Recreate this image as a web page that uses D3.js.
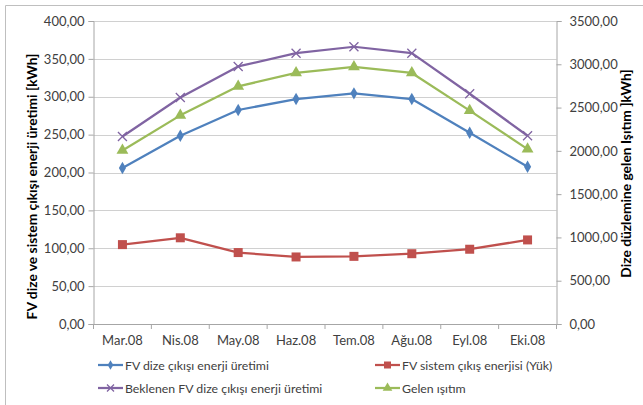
<!DOCTYPE html>
<html>
<head>
<meta charset="utf-8">
<script src="https://cdn.jsdelivr.net/npm/d3@7"></script>
<style>
  html, body { margin: 0; padding: 0; background: #fff; }
  svg { display: block; font-family: Lato, "Open Sans", sans-serif; }
</style>
</head>
<body>
<svg id="chart" width="643" height="405"></svg>
<script>
// Monthly energy data, March–October 2008
const months = ["Mar.08", "Nis.08", "May.08", "Haz.08", "Tem.08", "Ağu.08", "Eyl.08", "Eki.08"];
const dizeUretim = [206, 248.5, 282.5, 297, 304.5, 297, 252.5, 207.5];       // FV dize çıkışı enerji üretimi (left axis)
const sistemYuk = [104.8, 113.8, 94.3, 88.5, 89.3, 92.8, 98.7, 111];          // FV sistem çıkış enerjisi (Yük) (left axis)
const beklenen = [247.5, 299, 340, 357.5, 366, 357.5, 304, 248.5];           // Beklenen FV dize çıkışı enerji üretimi (left axis)
const gelenIsitim = [2005, 2410, 2745, 2900, 2970, 2900, 2465, 2020];        // Gelen ışıtım (right axis)
const leftTicks = [0, 50, 100, 150, 200, 250, 300, 350, 400];
const rightTicks = [0, 500, 1000, 1500, 2000, 2500, 3000, 3500];

const svg = d3.select("#chart");
const fmt = v => d3.format(".2f")(v).replace(".", ",");

// outer frame
svg.append("path").attr("d", "M5.5,405 V5.5 H643").attr("fill", "none").attr("stroke", "#bfbfbf");

const plot = { left: 93.5, right: 556.5, top: 21, bottom: 324 };

const x = d3.scaleBand().domain(months).range([plot.left, plot.right]);
const yL = d3.scaleLinear().domain([0, 400]).range([plot.bottom, plot.top]);
const yR = d3.scaleLinear().domain([0, 3500]).range([plot.bottom, plot.top]);

// gridlines
svg.append("g").selectAll("line").data(leftTicks.slice(1)).join("line")
  .attr("x1", plot.left).attr("x2", plot.right)
  .attr("y1", d => Math.round(yL(d)) + 0.5).attr("y2", d => Math.round(yL(d)) + 0.5)
  .attr("stroke", "#d0d0d0").attr("stroke-width", 1);

// left axis
const gL = svg.append("g").attr("transform", `translate(${plot.left},0)`)
  .call(d3.axisLeft(yL).tickValues(leftTicks).tickFormat(fmt).tickSize(5).tickPadding(4));
// right axis
const gR = svg.append("g").attr("transform", `translate(${plot.right},0)`)
  .call(d3.axisRight(yR).tickValues(rightTicks).tickFormat(fmt).tickSize(5).tickPadding(8));
// bottom axis
const gB = svg.append("g").attr("transform", `translate(0,${plot.bottom})`)
  .call(d3.axisBottom(x).tickSize(0).tickPadding(12));
// category boundary ticks
svg.append("g").selectAll("line").data(d3.range(months.length + 1)).join("line")
  .attr("x1", i => plot.left + i * x.bandwidth()).attr("x2", i => plot.left + i * x.bandwidth())
  .attr("y1", plot.bottom).attr("y2", plot.bottom + 5)
  .attr("stroke", "#a6a6a6");

[gL, gR, gB].forEach(g => {
  g.select(".domain").attr("stroke", "#a6a6a6");
  g.selectAll(".tick line").attr("stroke", "#a6a6a6");
  g.selectAll("text").attr("fill", "#404040").style("font-size", "13px").style("font-family", "Lato, sans-serif");
});

// axis titles
svg.append("text")
  .attr("transform", `translate(37,${(plot.top + plot.bottom) / 2 + 14}) rotate(-90)`)
  .attr("text-anchor", "middle").attr("font-weight", "bold").attr("font-size", "13.8px").attr("fill", "#000")
  .text("FV dize ve sistem çıkışı enerji üretimi [kWh]");
svg.append("text")
  .attr("transform", `translate(631,${(plot.top + plot.bottom) / 2 + 1}) rotate(-90)`)
  .attr("text-anchor", "middle").attr("font-weight", "bold").attr("font-size", "13.8px").attr("fill", "#000")
  .text("Dize düzlemine gelen Işıtım ]kWh]");

const cx = d => x(d) + x.bandwidth() / 2;

const series = [
  { name: "FV dize çıkışı enerji üretimi", values: dizeUretim, y: yL, color: "#4F81BD", marker: "diamond" },
  { name: "FV sistem çıkış enerjisi (Yük)", values: sistemYuk, y: yL, color: "#C0504D", marker: "square" },
  { name: "Beklenen FV dize çıkışı enerji üretimi", values: beklenen, y: yL, color: "#8064A2", marker: "x" },
  { name: "Gelen ışıtım", values: gelenIsitim, y: yR, color: "#9BBB59", marker: "triangle" }
];

function drawMarker(g, type, color, size) {
  if (type === "diamond") {
    g.append("path").attr("d", d3.symbol(d3.symbolDiamond, size * size * 0.55)()).attr("fill", color);
  } else if (type === "square") {
    g.append("rect").attr("x", -size / 2).attr("y", -size / 2).attr("width", size).attr("height", size).attr("fill", color);
  } else if (type === "triangle") {
    g.append("path").attr("d", d3.symbol(d3.symbolTriangle, size * size * 0.5)()).attr("fill", color);
  } else if (type === "x") {
    const h = size / 2;
    g.append("path").attr("d", `M${-h},${-h}L${h},${h}M${-h},${h}L${h},${-h}`)
      .attr("stroke", color).attr("stroke-width", 1.3).attr("fill", "none");
  }
}

const drawOrder = [1, 0, 3, 2];
drawOrder.forEach(i => {
  const s = series[i];
  const pts = months.map((m, j) => [cx(m), s.y(s.values[j])]);
  svg.append("path").attr("d", d3.line()(pts))
    .attr("fill", "none").attr("stroke", s.color).attr("stroke-width", 2.25).attr("stroke-linejoin", "round");
  pts.forEach(p => {
    const g = svg.append("g").attr("transform", `translate(${p[0]},${p[1]})`);
    drawMarker(g, s.marker, s.color, s.marker === "triangle" ? 11 : 9);
  });
});

// legend
const legendPos = [[98, 365], [375, 365], [98, 388], [375, 388]];
series.forEach((s, i) => {
  const [lx, ly] = legendPos[i];
  const g = svg.append("g").attr("transform", `translate(${lx},${ly})`);
  g.append("line").attr("x1", 0).attr("x2", 25).attr("y1", 0).attr("y2", 0)
    .attr("stroke", s.color).attr("stroke-width", 2.25);
  const m = g.append("g").attr("transform", "translate(12.5,0)");
  drawMarker(m, s.marker, s.color, s.marker === "triangle" ? 9 : 7);
  g.append("text").attr("x", 27).attr("y", 4.5).attr("font-size", "12.3px").attr("fill", "#404040").text(s.name);
});
</script>
</body>
</html>
